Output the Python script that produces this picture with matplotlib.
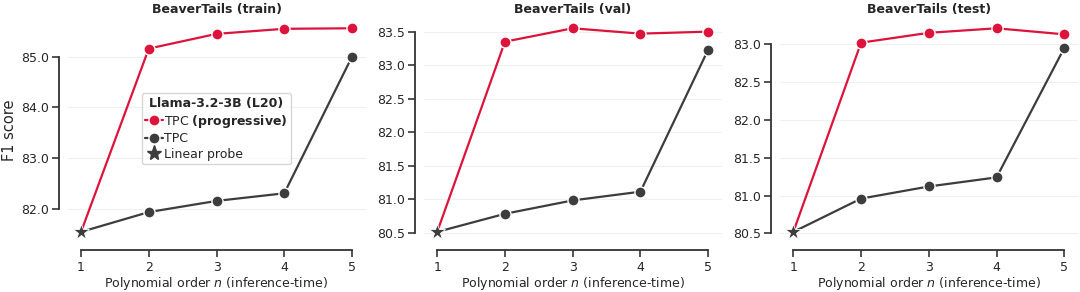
import matplotlib
matplotlib.use("Agg")
import matplotlib.pyplot as plt
import seaborn as sns

sns.set_theme(style="ticks")
plt.rcParams["font.family"] = ["DejaVu Sans"]
plt.rcParams["font.size"] = 9

orders = [1, 2, 3, 4, 5]
splits = ["train", "val", "test"]

# linear probe (n = 1) per split
linear_probe = [81.55, 80.51, 80.52]

# TPC progressive, n = 2..5
tpc_prog = [
    [85.16, 85.45, 85.55, 85.56],
    [83.35, 83.55, 83.47, 83.50],
    [83.02, 83.15, 83.21, 83.13],
]

# TPC, n = 2..5
tpc = [
    [81.94, 82.16, 82.31, 85.00],
    [80.78, 80.98, 81.11, 83.23],
    [80.96, 81.12, 81.24, 82.95],
]

yticks = [
    [82.0, 83.0, 84.0, 85.0],
    [80.5, 81.0, 81.5, 82.0, 82.5, 83.0, 83.5],
    [80.5, 81.0, 81.5, 82.0, 82.5, 83.0],
]

red = "#dc143c"
dark = "#3d3d3d"

fig, axes = plt.subplots(1, 3, figsize=(10.8, 2.92), dpi=100)
fig.subplots_adjust(left=0.0625, right=0.998, top=0.938, bottom=0.171, wspace=0.195)

for i, ax in enumerate(axes):
    lp = linear_probe[i]
    ax.grid(axis="y", color="#f0f0f0", linewidth=0.8, zorder=0)
    ax.plot(orders, [lp] + tpc_prog[i], color=red, lw=1.6, marker="o", ms=8,
            mec="white", mew=1.0, markevery=[1, 2, 3, 4], zorder=3)
    ax.plot(orders, [lp] + tpc[i], color=dark, lw=1.6, marker="o", ms=8,
            mec="white", mew=1.0, markevery=[1, 2, 3, 4], zorder=3)
    ax.plot([1], [lp], linestyle="none", marker="*", ms=12, color=dark,
            mec="white", mew=0.6, zorder=4)

    ax.set_xticks(orders)
    ax.set_yticks(yticks[i])
    ax.set_yticklabels([f"{t:.1f}" for t in yticks[i]])
    ax.set_title(f"BeaverTails ({splits[i]})", fontsize=9, fontweight="bold", pad=4)
    ax.set_xlabel("Polynomial order $n$ (inference-time)", fontsize=9, labelpad=1)
    ax.tick_params(labelsize=9, length=5, width=1.1, colors="#262626", pad=2.5)
    sns.despine(ax=ax, offset=6, trim=True)
    for s in ["left", "bottom"]:
        ax.spines[s].set_linewidth(1.3)
        ax.spines[s].set_color("#333333")

axes[0].set_ylabel("F1 score", fontsize=10.5, labelpad=3)

h_prog = plt.Line2D([], [], color=red, lw=1.6, marker="o", ms=8, mec="white", mew=1.0)
h_tpc = plt.Line2D([], [], color=dark, lw=1.6, marker="o", ms=8, mec="white", mew=1.0)
h_lp = plt.Line2D([], [], linestyle="none", marker="*", ms=11, color=dark)
leg = axes[0].legend([h_prog, h_tpc, h_lp],
                     [r"TPC $\mathbf{(progressive)}$", "TPC", "Linear probe"],
                     title="Llama-3.2-3B (L20)", title_fontproperties={"weight": "bold", "size": 9},
                     fontsize=9, loc="center", bbox_to_anchor=(0.5, 0.505),
                     handlelength=1.4, handletextpad=0.1, borderpad=0.3,
                     labelspacing=0.2, borderaxespad=0, frameon=True, fancybox=True)
leg.get_frame().set_edgecolor("#cccccc")

fig.savefig("out.png", dpi=100)
